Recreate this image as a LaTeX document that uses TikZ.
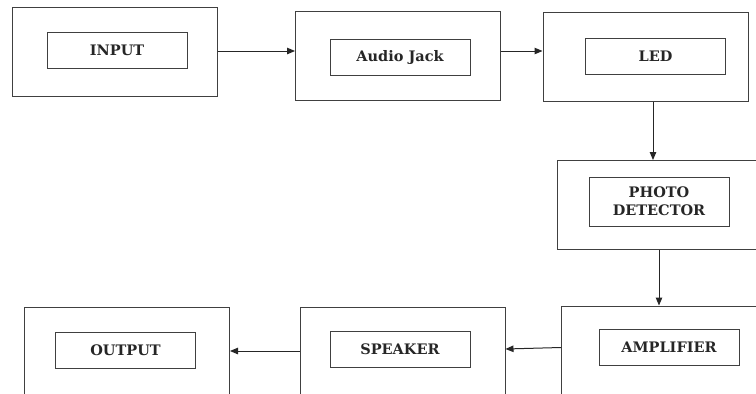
\documentclass[tikz,border=0pt]{standalone}
\usepackage{fontspec}
\setmainfont{DejaVu Serif}
\usetikzlibrary{arrows.meta}
\begin{document}
\begin{tikzpicture}[x=1pt,y=-1pt,
  outerbox/.style={draw=black!75, line width=1pt, inner sep=0pt,
    minimum width=205pt, minimum height=89pt},
  innerbox/.style={draw=black!75, line width=1pt, inner sep=0pt,
    minimum width=140pt, minimum height=36pt, align=center,
    font=\fontsize{14.5}{18}\selectfont\bfseries, text=black!85},
  flow/.style={draw=black!85, line width=1pt,
    -{Triangle[length=8pt,width=6.5pt]}}]
  \useasboundingbox (0,0) rectangle (756,394);
  \clip (0,0) rectangle (756,394);

  % outer frames
  \node[outerbox] (inbox)  at (114.5,52) {};
  \node[outerbox] (jackbox) at (398,56) {};
  \node[outerbox] (ledbox) at (645.5,56.5) {};
  \node[outerbox] (pdbox)  at (660,205) {};
  \node[outerbox, minimum height=94pt] (ampbox) at (664,353) {};
  \node[outerbox, minimum height=94pt] (spkbox) at (402.5,354) {};
  \node[outerbox, minimum height=94pt] (outbox) at (127,354) {};

  % labelled blocks
  \node[innerbox] (input) at (117,50) {INPUT};
  \node[innerbox] (jack)  at (400,57) {Audio Jack};
  \node[innerbox] (led)   at (655.5,56) {LED};
  \node[innerbox, minimum height=49pt] (pd) at (659,201.5) {PHOTO\\DETECTOR};
  \node[innerbox] (amp)   at (669,347.5) {AMPLIFIER};
  \node[innerbox] (spk)   at (400,349) {SPEAKER};
  \node[innerbox] (output) at (125.5,350.5) {OUTPUT};

  % signal path
  \draw[flow] ([yshift=1pt]inbox.east) -- ([yshift=1pt]jackbox.west |- inbox.east);
  \draw[flow] ([yshift=1pt]jackbox.east |- inbox.east) -- ([yshift=1pt]ledbox.west |- inbox.east);
  \draw[flow] ([xshift=7.5pt]ledbox.south) -- ([xshift=-7pt]pdbox.north);
  \draw[flow] (pdbox.south -| pd) -- (ampbox.north -| pd);
  \draw[flow] (ampbox.west |- amp) -- (spkbox.east |- spk);
  \draw[flow] ([yshift=3pt]spkbox.west) -- ([yshift=3pt]outbox.east |- spkbox.west);
\end{tikzpicture}
\end{document}
